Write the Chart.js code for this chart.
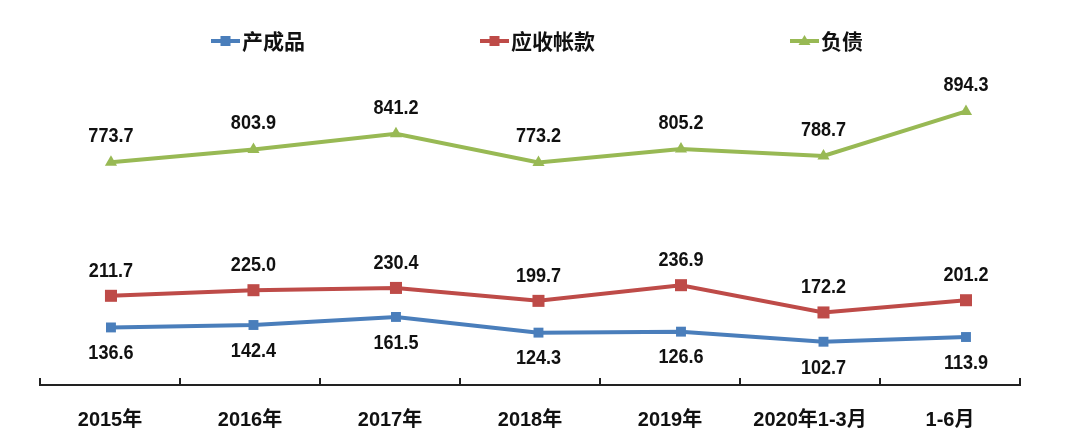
<!DOCTYPE html>
<html>
<head>
<meta charset="utf-8">
<script src="https://cdn.jsdelivr.net/npm/chart.js@4.4.1/dist/chart.umd.min.js"></script>
<style>
  html, body { margin: 0; padding: 0; background: #ffffff; }
  #wrap { width: 1080px; height: 435px; position: relative; }
</style>
</head>
<body>
<div id="wrap"><canvas id="c" width="1080" height="435"></canvas></div>
<script>
// ---- data ----
const categories = ['2015年', '2016年', '2017年', '2018年', '2019年', '2020年1-3月', '1-6月'];
const seriesNames = ['产成品', '应收帐款', '负债'];
const productValues = [136.6, 142.4, 161.5, 124.3, 126.6, 102.7, 113.9];
const receivableValues = [211.7, 225.0, 230.4, 199.7, 236.9, 172.2, 201.2];
const debtValues = [773.7, 803.9, 841.2, 773.2, 805.2, 788.7, 894.3];

// ---- styles ----
const NUM_FONT = "'Liberation Sans', 'Noto Sans CJK SC', sans-serif";
const CJK_FONT = "'Noto Sans CJK SC', 'Liberation Sans', sans-serif";
const BLUE = '#4A7EBB', RED = '#BE4B48', GREEN = '#98B954';

function toPoints(arr) { return arr.map((v, i) => ({ x: i, y: v })); }

const legendPlugin = {
  id: 'customLegend',
  afterDraw(chart, args, opts) {
    const ctx = chart.ctx;
    ctx.save();
    chart.data.datasets.forEach((ds, i) => {
      const x0 = opts.starts[i], y = opts.y;
      ctx.strokeStyle = ds.borderColor;
      ctx.lineWidth = 4;
      ctx.beginPath();
      ctx.moveTo(x0, y); ctx.lineTo(x0 + 29, y); ctx.stroke();
      ctx.fillStyle = ds.borderColor;
      const cx = x0 + 14.5;
      if (ds.pointStyle === 'triangle') {
        ctx.beginPath();
        ctx.moveTo(cx, y - 6); ctx.lineTo(cx + 6, y + 4); ctx.lineTo(cx - 6, y + 4);
        ctx.closePath(); ctx.fill();
      } else {
        ctx.fillRect(cx - 5, y - 5, 10, 10);
      }
      ctx.fillStyle = '#111';
      ctx.font = 'bold 21px ' + CJK_FONT;
      ctx.textBaseline = 'middle';
      ctx.textAlign = 'left';
      ctx.fillText(ds.label, x0 + 31, y);
    });
    ctx.restore();
  }
};

const labelPlugin = {
  id: 'pointLabels',
  afterDatasetsDraw(chart) {
    const ctx = chart.ctx;
    chart.data.datasets.forEach((ds, i) => {
      const meta = chart.getDatasetMeta(i);
      meta.data.forEach((el, j) => {
        const v = ds.data[j].y;
        ctx.save();
        ctx.translate(el.x, el.y + ds.labelOffset);
        ctx.scale(0.86, 1);
        ctx.font = 'bold 21px ' + NUM_FONT;
        ctx.fillStyle = '#111';
        ctx.textAlign = 'center';
        ctx.textBaseline = 'middle';
        ctx.fillText(v.toFixed(1), 0, 0);
        ctx.restore();
      });
    });
  }
};

new Chart(document.getElementById('c'), {
  type: 'line',
  data: {
    labels: categories,
    datasets: [
      {
        label: seriesNames[0], data: toPoints(productValues), xAxisID: 'x2', yAxisID: 'y',
        borderColor: BLUE, backgroundColor: BLUE, borderWidth: 4,
        pointStyle: 'rect', pointRadius: 7, pointBorderWidth: 0, labelOffset: 26
      },
      {
        label: seriesNames[1], data: toPoints(receivableValues), xAxisID: 'x2', yAxisID: 'y',
        borderColor: RED, backgroundColor: RED, borderWidth: 4,
        pointStyle: 'rect', pointRadius: 8.5, pointBorderWidth: 0, labelOffset: -25
      },
      {
        label: seriesNames[2], data: toPoints(debtValues), xAxisID: 'x2', yAxisID: 'y2',
        borderColor: GREEN, backgroundColor: GREEN, borderWidth: 4,
        pointStyle: 'triangle', pointRadius: 7, pointBorderWidth: 0, labelOffset: -26
      }
    ]
  },
  options: {
    responsive: false,
    animation: false,
    devicePixelRatio: 1,
    layout: { padding: { left: 40, right: 60, top: 69, bottom: 7 } },
    plugins: {
      legend: { display: false },
      tooltip: { enabled: false },
      customLegend: { starts: [211, 480, 790], y: 41 }
    },
    elements: { line: { tension: 0 } },
    scales: {
      x: {
        type: 'category',
        offset: true,
        afterFit(scale) { scale.height = 43; },
        border: { display: true, color: '#222', width: 2 },
        grid: { offset: true, drawOnChartArea: false, drawTicks: true, tickLength: -7, color: '#222', lineWidth: 2 },
        ticks: { padding: 30, color: '#111', font: { family: NUM_FONT, size: 20, weight: 'bold' }, maxRotation: 0, autoSkip: false }
      },
      x2: { type: 'linear', display: false, min: -0.498, max: 6.379 },
      y: { display: false, min: 0, max: 750 },
      y2: { display: false, min: 245, max: 995 }
    }
  },
  plugins: [legendPlugin, labelPlugin]
});
</script>
</body>
</html>
